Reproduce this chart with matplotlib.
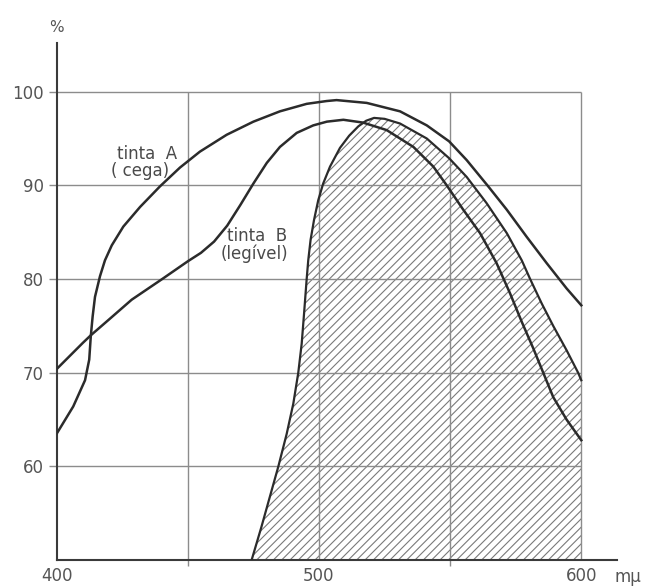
import matplotlib
matplotlib.use("Agg")
import matplotlib.pyplot as plt

plt.rcParams['font.family'] = ['DejaVu Sans']
plt.rcParams['hatch.linewidth'] = 0.8

# curves (wavelength in m-mu, percent)
tinta_a_x = [400, 406.3, 410.8, 412.4, 413.0, 413.7, 414.6, 416.5, 418.4, 421.0, 425.4, 431.8,
             439.4, 447.0, 454.6, 464.8, 475.0, 485.1, 495.3, 502.9, 506.7, 518.2, 530.9, 541.1,
             549.6, 556.3, 564.5, 571.6, 579.2, 586.8, 594.4, 600]
tinta_a_y = [63.5, 66.4, 69.2, 71.4, 73.9, 76.0, 78.1, 80.3, 82.0, 83.6, 85.6, 87.7,
             89.9, 91.9, 93.6, 95.4, 96.8, 97.9, 98.7, 99.0, 99.1, 98.8, 97.9, 96.4,
             94.7, 92.7, 89.9, 87.4, 84.5, 81.7, 79.0, 77.2]

tinta_b_x = [400, 405, 410, 413, 420, 428.6, 440.2, 450, 455, 460, 465, 470, 475.0,
             480.1, 485.1, 491.5, 497.8, 503, 509.3, 516.8, 525.8, 536, 543.6, 548.7, 555,
             561.4, 567.7, 572.8, 577.2, 581.7, 585.5, 589.3, 594.4, 600]
tinta_b_y = [70.4, 71.8, 73.2, 74.0, 75.7, 77.8, 80.0, 81.9, 82.8, 84.0, 85.7, 87.9, 90.2,
             92.4, 94.1, 95.6, 96.4, 96.8, 97.0, 96.7, 95.9, 94.1, 92.0, 90.0, 87.4,
             84.9, 81.7, 78.5, 75.5, 72.6, 70.0, 67.4, 65.0, 62.8]

olho_x = [474.3, 478, 481.5, 484.5, 487.7, 490.2, 492.1, 493.4, 494.3, 495.3, 495.9, 496.8,
          498.1, 499.7, 501.6, 504.2, 508, 511.5, 515, 518, 521, 525, 530.9, 541.1, 549.6,
          556.3, 563.9, 571.6, 577.3, 580.5, 584.9, 589.3, 594.4, 598.8, 600]
olho_y = [50.0, 53.5, 57.0, 60.0, 63.5, 66.7, 70.0, 73.1, 76.3, 80.0, 82.0, 84.2,
          86.3, 88.4, 90.2, 92.0, 94.0, 95.3, 96.3, 96.9, 97.2, 97.1, 96.6, 95.0, 92.9,
          90.9, 88.1, 84.9, 82.0, 80.0, 77.4, 75.0, 72.4, 70.0, 69.2]

grid_x = [450, 500, 550, 600]
grid_y = [60, 70, 80, 90, 100]
x_labels = [400, 500, 600]

fig = plt.figure(figsize=(6.45, 5.87), dpi=100)
ax = fig.add_axes([0.0879, 0.0457, 0.9028, 0.9418])
ax.set_xlim(400, 622)
ax.set_ylim(50, 109)

line_c = '#2b2b2b'
grid_c = '#8c8c8c'

# grid, only inside the 400-600 / 50-100 box
ax.hlines(grid_y, 400, 600, colors=grid_c, linewidth=1.0, zorder=2)
ax.vlines(grid_x, 50, 100, colors=grid_c, linewidth=1.0, zorder=2)

# hatched area
ax.fill_between(olho_x, 50, olho_y, facecolor='none', edgecolor='#7a7a7a',
                hatch='////', linewidth=0, zorder=1)

ax.plot(tinta_a_x, tinta_a_y, color=line_c, lw=1.8, zorder=3, solid_joinstyle='round')
ax.plot(tinta_b_x, tinta_b_y, color=line_c, lw=1.8, zorder=3, solid_joinstyle='round')
ax.plot(olho_x, olho_y, color=line_c, lw=1.6, zorder=3, solid_joinstyle='round')

for s in ['top', 'right']:
    ax.spines[s].set_visible(False)
ax.spines['left'].set_bounds(50, 105.2)
ax.spines['bottom'].set_bounds(400, 613.5)
for s in ['left', 'bottom']:
    ax.spines[s].set_color('#3a3a3a')
    ax.spines[s].set_linewidth(1.5)

ax.set_yticks(grid_y)
ax.set_yticklabels([str(v) for v in grid_y])
ax.tick_params(axis='y', length=5.8, width=1.0, color=grid_c, pad=3.5,
               labelsize=12, labelcolor='#555555')

ax.set_xticks(x_labels)
ax.set_xticklabels([str(v) for v in x_labels])
ax.set_xticks([450, 500, 550], minor=True)
ax.tick_params(axis='x', which='major', length=0, pad=5, labelsize=12, labelcolor='#555555')
ax.tick_params(axis='x', which='minor', length=4.5, width=1.0, color=grid_c)

txt = dict(fontsize=12, color='#4a4a4a', ha='center', va='center')
ax.text(434.4, 93.4, "tinta  A", **txt)
ax.text(431.8, 91.5, "( cega)", **txt)
ax.text(476.2, 84.6, "tinta  B", **txt)
ax.text(475.2, 82.7, "(legível)", **txt)
ax.text(400, 106.9, "%", fontsize=11, color='#555555', ha='center', va='center')
ax.text(612.5, 48.2, "mμ", fontsize=12, color='#555555', ha='left', va='center', clip_on=False)

fig.savefig("out.png", dpi=100)
